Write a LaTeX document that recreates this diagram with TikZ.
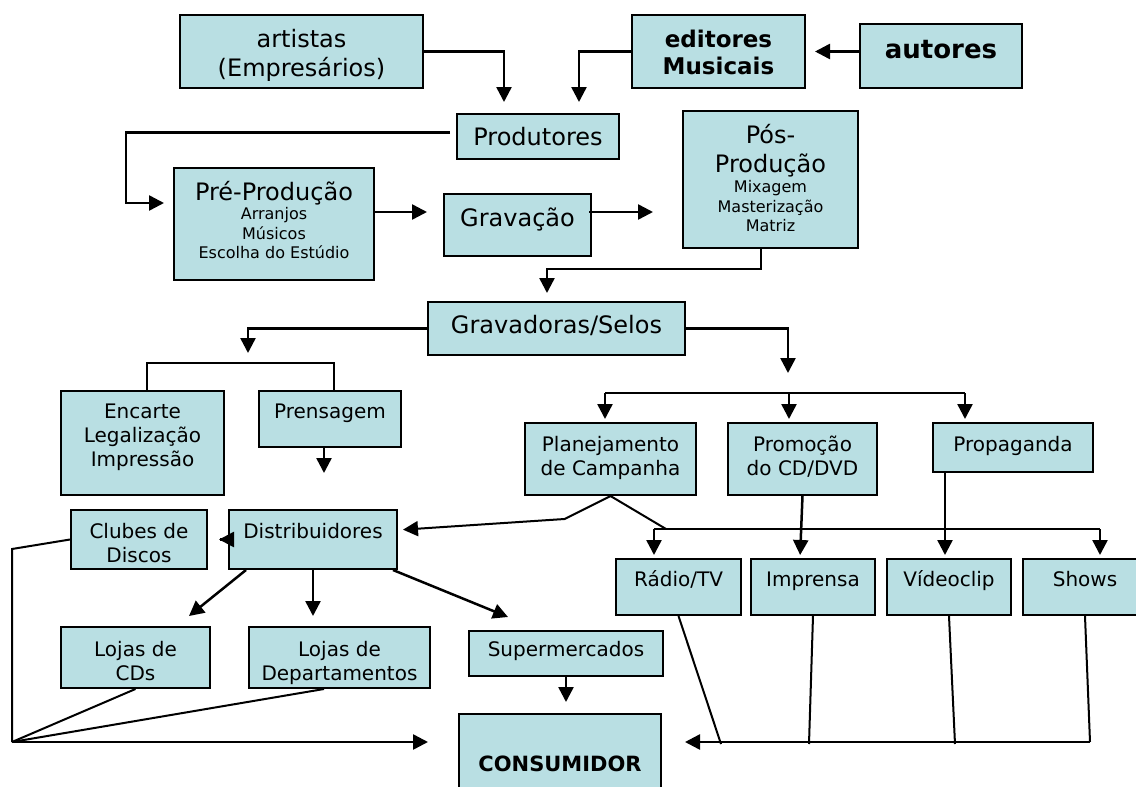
\documentclass[tikz,border=0pt]{standalone}
\usepackage{fontspec}
\setmainfont{DejaVu Sans}
\usepackage{xcolor}
\usepackage{tikz}
\usetikzlibrary{positioning,arrows.meta,calc}

\definecolor{azulcaixa}{RGB}{185,223,227}
\newcommand{\grande}{\fontsize{24}{29}\selectfont}
\newcommand{\medio}{\fontsize{20}{24.3}\selectfont}
\newcommand{\pequeno}{\fontsize{16}{19.5}\selectfont}
\newcommand{\negrito}{\fontsize{23}{28}\selectfont\bfseries}
% box text: width, height, first baseline, text
\newcommand{\rotulo}[4]{\parbox[c][#2pt][t]{#1pt}{\centering\rule{0pt}{#3pt}#4\par}}

\begin{document}
\begin{tikzpicture}[x=1pt, y=-1pt,
  caixa/.style={draw, fill=azulcaixa, line width=2pt, anchor=north west, inner sep=0pt},
  seta/.style={line width=2.5pt, -{Triangle[length=15pt,width=15pt]}},
  fio/.style={line width=2pt},
  barra/.style={line width=2.5pt}]
\useasboundingbox (0,0) rectangle (1136,787);
% producao
\node[caixa, font=\grande] (artistas) at (179,14) {\rotulo{243}{73}{32}{artistas\\(Empresários)}};
\node[caixa, font=\negrito] (editores) at (631,14) {\rotulo{173}{73}{32}{editores\\Musicais}};
\node[caixa, font=\fontsize{26}{31}\selectfont\bfseries] (autores) at (859,23) {\rotulo{162}{64}{34}{autores}};
\node[caixa, font=\grande] (produtores) at (456,113) {\rotulo{162}{45}{31}{Produtores}};
\node[caixa, font=\grande] (pre) at (173,167) {\rotulo{200}{112}{32}{Pré-Produção\\\pequeno Arranjos\\Músicos\\Escolha do Estúdio}};
\node[caixa, font=\grande] (gravacao) at (443,193) {\rotulo{147}{62}{32}{Gravação}};
\node[caixa, font=\grande] (pos) at (682,110) {\rotulo{175}{137}{32}{Pós-\\Produção\\[1pt]\pequeno Mixagem\\Masterização\\Matriz}};
\node[caixa, font=\grande] (gravadoras) at (427,301) {\rotulo{257}{53}{31}{Gravadoras/Selos}};
% fabricacao e distribuicao
\node[caixa, font=\medio] (encarte) at (60,390) {\rotulo{163}{104}{27}{Encarte\\Legalização\\Impressão}};
\node[caixa, font=\medio] (prensagem) at (258,390) {\rotulo{142}{56}{27}{Prensagem}};
\node[caixa, font=\medio] (clubes) at (70,509) {\rotulo{136}{59}{28}{Clubes de\\Discos}};
\node[caixa, font=\medio] (distribuidores) at (228,509) {\rotulo{168}{59}{28}{Distribuidores}};
\node[caixa, font=\medio] (lojascd) at (60,626) {\rotulo{149}{61}{29}{Lojas de\\CDs}};
\node[caixa, font=\medio] (lojasdep) at (248,626) {\rotulo{181}{61}{29}{Lojas de\\Departamentos}};
\node[caixa, font=\medio] (super) at (468,630) {\rotulo{194}{45}{25}{Supermercados}};
\node[caixa, font=\fontsize{21}{25}\selectfont\bfseries] (consumidor) at (458,713) {\rotulo{202}{90}{57}{CONSUMIDOR}};
% divulgacao
\node[caixa, font=\medio] (planejamento) at (524,422) {\rotulo{171}{72}{28}{Planejamento\\de Campanha}};
\node[caixa, font=\medio] (promocao) at (727,422) {\rotulo{149}{72}{28}{Promoção\\do CD/DVD}};
\node[caixa, font=\medio] (propaganda) at (932,422) {\rotulo{160}{49}{28}{Propaganda}};
\foreach \nome/\xa/\larg/\texto in {radio/615/125/{Rádio/TV}, imprensa/750/124/Imprensa,
    videoclip/886/124/Vídeoclip, shows/1022/124/Shows}{
  \node[caixa, font=\medio] (\nome) at (\xa,558) {\rotulo{\larg}{56}{27}{\texto}};
}
% setas do topo
\draw[seta, shorten >=11pt] (artistas.east) -| ($(produtores.north)+(-34,0)$);
\draw[seta, shorten >=11pt] (editores.west) -| ($(produtores.north)+(41,0)$);
\draw[seta, shorten >=9pt] (autores.west |- editores.east) -- (editores.east);
\draw[seta, shorten <=6pt, shorten >=9pt] ($(produtores.west)+(0,-4)$) -- ++(-330,0) |- ($(pre.west)+(0,-21)$);
\draw[seta, shorten <=-2pt, shorten >=16pt] ($(pre.east)+(0,-12)$) -- ($(gravacao.west)+(0,-13)$);
\draw[seta, shorten <=-3pt, shorten >=29pt] ($(gravacao.east)+(0,-13)$) -- ($(pos.west)+(0,32.5)$);
\draw[seta, shorten >=8pt] ($(pos.south)+(-9.5,0)$) -- ++(0,20) -| ($(gravadoras.north)+(-9.5,0)$);
% ramo esquerdo
\coordinate (ramoA) at (248,363);
\draw[seta, shorten >=10pt] (gravadoras.west) -| (ramoA);
\draw[fio] ($(encarte.north)+(4,0)$) |- (ramoA) -| ($(prensagem.north)+(4,0)$);
\draw[seta, shorten >=36pt] ($(prensagem.south)+(-6,0)$) -- ($(distribuidores.north)+(11,0)$);
% ramo direito
\coordinate (ramoB) at (788,393);
\draw[seta, shorten >=20pt] (gravadoras.east) -| (ramoB);
\draw[barra] ($(planejamento.north)+(-5.5,-29)$) -- ($(propaganda.north)+(-48,-29)$);
\foreach \nome/\dx in {planejamento/-5.5, promocao/-13.5, propaganda/-48}{
  \draw[seta, shorten >=3pt] ($(\nome.north)+(\dx,-29)$) -- ($(\nome.north)+(\dx,0)$);
}
% campanha
\draw[fio, -{Triangle[length=15pt,width=15pt]}, shorten >=5pt] (planejamento.south) -- ++(-46,23) -- ($(distribuidores.east)+(0,-9.5)$);
\coordinate (ramoC) at (666,529);
\draw[fio] (planejamento.south) -- (ramoC);
\draw[barra] ($(radio.north)+(-24.5,-29)$) -- ($(shows.north)+(15,-29)$);
\draw[seta, shorten >=3pt] ($(radio.north)+(-24.5,-29)$) -- ($(radio.north)+(-24.5,0)$);
\draw[seta, shorten >=3pt] ($(shows.north)+(15,-29)$) -- ($(shows.north)+(15,0)$);
\draw[seta, shorten >=3pt] (promocao.south) -- ($(imprensa.north)+(-13,0)$);
\draw[seta, shorten >=3pt] ($(propaganda.south)+(-68,0)$) -- ($(videoclip.north)+(-4,0)$);
% distribuidores
\draw[seta, shorten <=-8pt, shorten >=11pt] (distribuidores.west) -- (clubes.east);
\draw[seta] ($(distribuidores.south)+(-67,0)$) -- ($(lojascd.north)+(53.5,-10)$);
\draw[seta] (distribuidores.south) -- ($(lojasdep.north)+(-26.5,-10)$);
\draw[seta] ($(distribuidores.south)+(80,0)$) -- ($(super.north)+(-58,-13)$);
\draw[seta, shorten >=11pt] (super.south) -- (super.south |- consumidor.north);
% coleta esquerda
\coordinate (coletaE) at (12,742);
\draw[fio] (clubes.west) -- ++(-58,9.5) -- (coletaE);
\draw[fio] (lojascd.south) -- (coletaE);
\draw[fio] ($(lojasdep.south)+(-15.5,0)$) -- (coletaE);
\draw[seta, shorten >=30pt] (coletaE) -- (coletaE -| consumidor.west);
% coleta direita
\coordinate (coletaD) at (1090,742);
\draw[fio] (shows.south) -- (coletaD);
\draw[seta, shorten >=23pt] (coletaD) -- (coletaD -| consumidor.east);
\draw[fio] (radio.south) -- ($(radio.south)+(42.5,128)$);
\draw[fio] (imprensa.south) -- ($(imprensa.south)+(-4,128)$);
\draw[fio] (videoclip.south) -- ($(videoclip.south)+(6,128)$);
\end{tikzpicture}
\end{document}
